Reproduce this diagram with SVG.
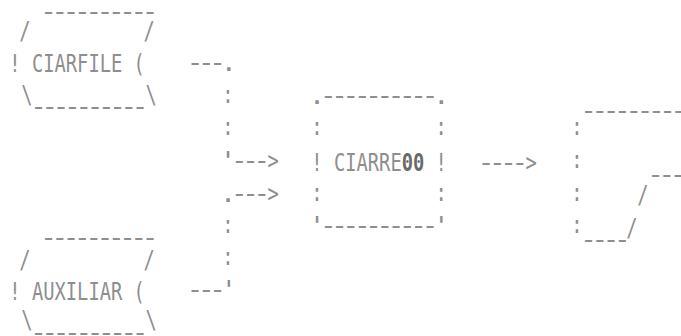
<svg xmlns="http://www.w3.org/2000/svg" width="681" height="336" viewBox="0 0 681 336">
<style>
text{font-family:"DejaVu Sans Mono","Liberation Mono",monospace;font-size:24px;fill:#8e8e8e;white-space:pre}
.d{letter-spacing:-4.623px}
.b{font-weight:bold;fill:#6a6a6a}
</style>
<rect width="681" height="336" fill="#ffffff"/>
<g id="ciarfile">
<text class="d" transform="translate(40.19,20) scale(1.15,1)">----------</text>
<text transform="translate(19.35,38.5) scale(0.7821,1)">/          /</text>
<text transform="translate(9.35,72) scale(0.7821,1)">! CIARFILE (</text>
<text transform="translate(21.35,103) scale(0.7821,1)">\          \</text>
<text class="d" transform="translate(30.19,115) scale(1.15,1)">----------</text>
</g>
<g id="auxiliar">
<text class="d" transform="translate(40.19,246) scale(1.15,1)">----------</text>
<text transform="translate(19.35,268) scale(0.7821,1)">/          /</text>
<text transform="translate(9.35,300) scale(0.7821,1)">! AUXILIAR (</text>
<text transform="translate(21.35,328) scale(0.7821,1)">\          \</text>
<text class="d" transform="translate(30.19,341) scale(1.15,1)">----------</text>
</g>
<g id="ciarre00">
<text class="d" transform="translate(308.69,104) scale(1.15,1)">.----------.</text>
<text transform="translate(311.35,135) scale(0.7821,1)">:          :</text>
<text transform="translate(311.35,171) scale(0.7821,1)">! CIARRE<tspan class="b">00</tspan> !</text>
<text transform="translate(311.35,200.5) scale(0.7821,1)">:          :</text>
<text class="d" transform="translate(308.69,234) scale(1.15,1)">'----------'</text>
</g>
<g id="output">
<text class="d" transform="translate(580.19,119) scale(1.15,1)">---------</text>
<text transform="translate(571.35,135) scale(0.7821,1)">:</text>
<text transform="translate(571.35,167.5) scale(0.7821,1)">:</text>
<text class="d" transform="translate(647.19,183) scale(1.15,1)">---</text>
<text transform="translate(571.35,200.5) scale(0.7821,1)">:</text>
<text transform="translate(637.35,203) scale(0.7821,1)">/</text>
<text transform="translate(571.35,232.5) scale(0.7821,1)">:</text>
<text transform="translate(626.35,236) scale(0.7821,1)">/</text>
<text class="d" transform="translate(580.19,248) scale(1.15,1)">----</text>
</g>
<g id="connectors">
<text class="d" transform="translate(186.69,71) scale(1.15,1)">---.</text>
<text transform="translate(222.35,103) scale(0.7821,1)">:</text>
<text transform="translate(222.35,135) scale(0.7821,1)">:</text>
<text class="d" transform="translate(219.69,168.5) scale(1.15,1)">'---</text>
<text transform="translate(267.55,168.5) scale(0.7821,1)">&gt;</text>
<text class="d" transform="translate(219.69,201.5) scale(1.15,1)">.---</text>
<text transform="translate(267.55,201.5) scale(0.7821,1)">&gt;</text>
<text transform="translate(222.35,233) scale(0.7821,1)">:</text>
<text transform="translate(222.35,265) scale(0.7821,1)">:</text>
<text class="d" transform="translate(186.69,298) scale(1.15,1)">---'</text>
<text class="d" transform="translate(477.69,171) scale(1.15,1)">----</text>
<text transform="translate(525.55,171) scale(0.7821,1)">&gt;</text>
</g>
</svg>
